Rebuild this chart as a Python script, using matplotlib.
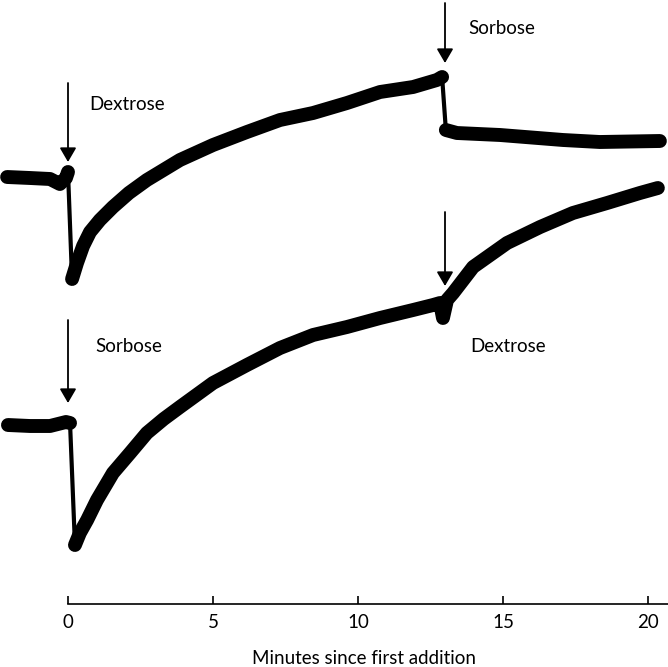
import matplotlib
matplotlib.use("Agg")
import matplotlib.pyplot as plt
import numpy as np

plt.rcParams['font.family'] = ['Lato', 'DejaVu Sans']

# Time (minutes since first addition) and chart deflection (arbitrary units)
upper_t = [-2.10, -1.31, -0.62, -0.28, -0.07, 0.00,
           0.14, 0.31, 0.52, 0.76, 1.10, 1.55, 2.10, 2.72, 3.86, 5.00, 6.17,
           7.31, 8.45, 9.62, 10.76, 11.90, 12.72, 12.90,
           13.03, 13.41, 14.90, 17.07, 18.34, 20.41]
upper_v = [42.7, 42.6, 42.5, 42.0, 42.6, 43.2,
           32.5, 34.1, 35.8, 37.2, 38.4, 39.7, 41.1, 42.4, 44.4, 45.9, 47.2,
           48.4, 49.1, 50.1, 51.2, 51.7, 52.4, 52.7,
           47.4, 47.1, 46.9, 46.4, 46.2, 46.3]

lower_t = [-2.07, -1.31, -0.62, -0.07, 0.07,
           0.24, 0.41, 0.66, 1.00, 1.55, 2.14, 2.72, 3.30, 3.86, 5.00, 6.17,
           7.31, 8.45, 9.62, 10.76, 11.90, 12.59, 12.83, 12.93, 13.07,
           13.28, 13.97, 15.14, 16.28, 17.41, 18.59, 19.72, 20.34]
lower_v = [17.9, 17.8, 17.8, 18.2, 18.1,
           5.9, 7.1, 8.4, 10.4, 13.1, 15.1, 17.1, 18.5, 19.7, 22.1, 23.9,
           25.6, 26.9, 27.7, 28.6, 29.4, 29.9, 30.1, 28.6, 30.4,
           31.1, 33.7, 36.1, 37.7, 39.1, 40.1, 41.1, 41.6]

# Index ranges of the fast pen swings (drawn thin) after each addition
upper_swings = [(5, 6), (23, 24)]
lower_swings = [(4, 5)]

addition_times = [0.0, 13.0]
upper_labels = ["Dextrose", "Sorbose"]
lower_labels = ["Sorbose", "Dextrose"]

xticks = [0, 5, 10, 15, 20]
xlabel = "Minutes since first addition"

fig = plt.figure(figsize=(6.68, 6.67), dpi=100)
ax = fig.add_axes([0, 0, 1, 1])
ax.set_xlim(-68 / 29, 600 / 29)
ax.set_ylim(-6.3, 60.4)


def draw_trace(t, v, swings):
    t = np.asarray(t)
    v = np.asarray(v)
    cuts = [0]
    for a, b in swings:
        cuts += [a, b]
    cuts.append(len(t) - 1)
    # thick noisy stretches between the swings
    for i in range(0, len(cuts), 2):
        s, e = cuts[i], cuts[i + 1]
        ax.plot(t[s:e + 1], v[s:e + 1], color='black', lw=10,
                solid_capstyle='round', solid_joinstyle='round')
    # thin fast swings
    for a, b in swings:
        ax.plot(t[a:b + 1], v[a:b + 1], color='black', lw=3,
                solid_capstyle='round')


draw_trace(upper_t, upper_v, upper_swings)
draw_trace(lower_t, lower_v, lower_swings)

arrow_style = dict(arrowstyle='-|>,head_length=0.43,head_width=0.25',
                   color='black', lw=1.3, shrinkA=0, shrinkB=0,
                   mutation_scale=20)

# upper trace additions
ax.annotate('', xy=(addition_times[0], 44.2), xytext=(addition_times[0], 52.1),
            arrowprops=arrow_style)
ax.annotate('', xy=(addition_times[1], 54.1), xytext=(addition_times[1], 60.1),
            arrowprops=arrow_style)
# lower trace additions
ax.annotate('', xy=(addition_times[0], 20.1), xytext=(addition_times[0], 28.4),
            arrowprops=arrow_style)
ax.annotate('', xy=(addition_times[1], 31.8), xytext=(addition_times[1], 39.2),
            arrowprops=arrow_style)

fs = 13.5
ax.text(0.72, 49.4, upper_labels[0], fontsize=fs, va='baseline', ha='left')
ax.text(13.79, 57.0, upper_labels[1], fontsize=fs, va='baseline', ha='left')
ax.text(0.93, 25.2, lower_labels[0], fontsize=fs, va='baseline', ha='left')
ax.text(13.86, 25.2, lower_labels[1], fontsize=fs, va='baseline', ha='left')

# time axis
for side in ['left', 'right', 'top']:
    ax.spines[side].set_visible(False)
ax.spines['bottom'].set_position(('data', 0))
ax.spines['bottom'].set_bounds(0, 600 / 29)
ax.spines['bottom'].set_linewidth(1.2)
ax.set_xticks(xticks)
ax.set_xticklabels([str(x) for x in xticks])
ax.tick_params(axis='x', direction='in', length=6, width=1.2, pad=7,
               labelsize=fs)
ax.set_yticks([])

fig.text(364 / 668, 1 - 664 / 667, xlabel, fontsize=fs, ha='center',
         va='baseline')

fig.savefig('out.png', dpi=100)
